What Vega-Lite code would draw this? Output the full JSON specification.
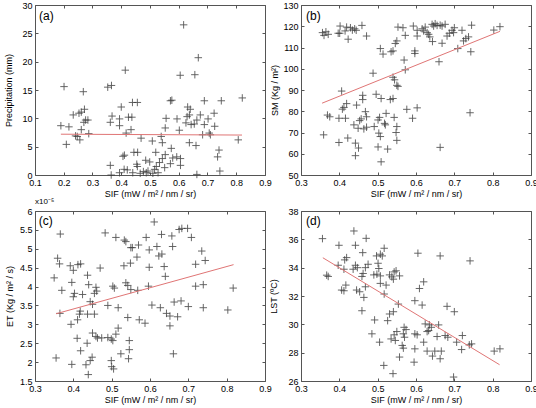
{
"$schema": "https://vega.github.io/schema/vega-lite/v6.json",
"padding": {"left": 4, "top": 0, "right": 0, "bottom": 0},
"background": "white",
"config": {
  "font": "Liberation Sans",
  "view": {"stroke": "#555", "strokeWidth": 1},
  "axis": {"grid": false, "domain": false, "tickSize": -3, "tickColor": "#555", "tickWidth": 1, "labelFontSize": 9, "labelColor": "#000", "labelPadding": 6, "labelFlush": false, "labelOverlap": false, "titleFontSize": 9, "titleFontWeight": "normal", "titleColor": "#000", "titlePadding": 3},
  "title": {"fontSize": 8, "fontWeight": "normal", "anchor": "start", "frame": "group", "offset": 1, "color": "#000"}
},
"datasets": {
  "a": [
    {"sif":0.414,"precip":18.5},{"sif":0.201,"precip":15.6},{"sif":0.268,"precip":14.7},{"sif":0.353,"precip":15.5},{"sif":0.366,"precip":15.8},{"sif":0.439,"precip":12.8},{"sif":0.456,"precip":12.8},{"sif":0.4,"precip":12.0},{"sif":0.233,"precip":10.6},{"sif":0.253,"precip":10.9},{"sif":0.261,"precip":11.1},{"sif":0.272,"precip":11.6},{"sif":0.276,"precip":9.7},{"sif":0.284,"precip":9.7},{"sif":0.27,"precip":9.3},{"sif":0.368,"precip":10.4},{"sif":0.394,"precip":9.9},{"sif":0.362,"precip":9.3},{"sif":0.394,"precip":8.7},{"sif":0.425,"precip":10.2},{"sif":0.437,"precip":10.2},{"sif":0.434,"precip":8.0},{"sif":0.417,"precip":7.4},{"sif":0.19,"precip":8.7},{"sif":0.218,"precip":8.5},{"sif":0.261,"precip":8.0},{"sif":0.241,"precip":6.9},{"sif":0.256,"precip":6.2},{"sif":0.247,"precip":6.8},{"sif":0.287,"precip":7.3},{"sif":0.209,"precip":5.4},{"sif":0.469,"precip":6.5},{"sif":0.411,"precip":3.5},{"sif":0.406,"precip":3.3},{"sif":0.444,"precip":4.0},{"sif":0.457,"precip":4.0},{"sif":0.362,"precip":1.7},{"sif":0.365,"precip":0.0},{"sif":0.394,"precip":0.4},{"sif":0.41,"precip":1.0},{"sif":0.421,"precip":0.9},{"sif":0.454,"precip":1.9},{"sif":0.456,"precip":1.5},{"sif":0.44,"precip":0.4},{"sif":0.466,"precip":0.3},{"sif":0.485,"precip":2.6},{"sif":0.477,"precip":0.6},
    {"sif":0.617,"precip":26.5},{"sif":0.668,"precip":20.7},{"sif":0.605,"precip":17.6},{"sif":0.656,"precip":17.7},{"sif":0.571,"precip":13.1},{"sif":0.576,"precip":13.2},{"sif":0.689,"precip":13.1},{"sif":0.748,"precip":13.1},{"sif":0.821,"precip":13.6},{"sif":0.631,"precip":12.0},{"sif":0.64,"precip":11.6},{"sif":0.723,"precip":10.9},{"sif":0.637,"precip":10.6},{"sif":0.556,"precip":10.0},{"sif":0.594,"precip":9.9},{"sif":0.629,"precip":10.3},{"sif":0.675,"precip":10.6},{"sif":0.702,"precip":9.9},{"sif":0.663,"precip":9.7},{"sif":0.625,"precip":9.2},{"sif":0.643,"precip":8.9},{"sif":0.654,"precip":9.0},{"sif":0.689,"precip":8.9},{"sif":0.553,"precip":8.3},{"sif":0.602,"precip":7.9},{"sif":0.725,"precip":8.6},{"sif":0.683,"precip":7.1},{"sif":0.706,"precip":7.4},{"sif":0.71,"precip":7.1},{"sif":0.807,"precip":6.2},{"sif":0.508,"precip":6.0},{"sif":0.539,"precip":6.8},{"sif":0.543,"precip":5.7},{"sif":0.637,"precip":5.7},{"sif":0.66,"precip":5.2},{"sif":0.52,"precip":4.0},{"sif":0.574,"precip":4.7},{"sif":0.74,"precip":4.4},{"sif":0.735,"precip":3.2},{"sif":0.553,"precip":3.6},{"sif":0.593,"precip":3.2},{"sif":0.606,"precip":2.9},{"sif":0.579,"precip":3.0},{"sif":0.543,"precip":2.9},{"sif":0.499,"precip":2.3},{"sif":0.533,"precip":2.2},{"sif":0.571,"precip":2.0},{"sif":0.606,"precip":1.7},{"sif":0.551,"precip":1.3},{"sif":0.516,"precip":1.0},{"sif":0.522,"precip":1.5},{"sif":0.493,"precip":0.7},{"sif":0.51,"precip":0.3},{"sif":0.528,"precip":0.4},{"sif":0.663,"precip":0.1},{"sif":0.743,"precip":0.7},{"sif":0.487,"precip":0.4}
  ],
  "afit": [{"sif":0.19,"precip":7.2},{"sif":0.82,"precip":7.05}],
  "b": [
    {"sif":0.359,"sm":68.9},{"sif":0.369,"sm":78.2},{"sif":0.375,"sm":77.4},{"sif":0.356,"sm":117.0},{"sif":0.365,"sm":117.4},{"sif":0.371,"sm":116.2},{"sif":0.36,"sm":115.7},{"sif":0.402,"sm":120.1},{"sif":0.397,"sm":116.7},{"sif":0.401,"sm":116.7},{"sif":0.419,"sm":119.6},{"sif":0.429,"sm":119.3},{"sif":0.434,"sm":118.2},{"sif":0.44,"sm":118.8},{"sif":0.459,"sm":120.4},{"sif":0.423,"sm":113.9},{"sif":0.471,"sm":115.4},{"sif":0.415,"sm":117.8},{"sif":0.444,"sm":118.1},{"sif":0.406,"sm":89.5},{"sif":0.399,"sm":76.7},{"sif":0.416,"sm":76.7},{"sif":0.412,"sm":81.8},{"sif":0.419,"sm":83.6},{"sif":0.408,"sm":81.0},{"sif":0.399,"sm":65.3},{"sif":0.422,"sm":67.4},{"sif":0.442,"sm":65.0},{"sif":0.442,"sm":59.1},{"sif":0.45,"sm":62.7},{"sif":0.445,"sm":82.9},{"sif":0.438,"sm":73.6},{"sif":0.449,"sm":72.0},{"sif":0.453,"sm":75.6},{"sif":0.457,"sm":76.4},{"sif":0.461,"sm":87.5},{"sif":0.461,"sm":85.5},{"sif":0.468,"sm":79.8},{"sif":0.471,"sm":77.4},{"sif":0.471,"sm":72.5},{"sif":0.464,"sm":71.7},{"sif":0.488,"sm":97.9},{"sif":0.496,"sm":88.0},{"sif":0.491,"sm":72.8},{"sif":0.501,"sm":75.9},{"sif":0.505,"sm":77.1},{"sif":0.503,"sm":69.7},{"sif":0.507,"sm":68.1},{"sif":0.501,"sm":63.2},{"sif":0.509,"sm":56.2},{"sif":0.509,"sm":86.0},{"sif":0.522,"sm":79.0},{"sif":0.518,"sm":74.3},{"sif":0.52,"sm":73.6},{"sif":0.526,"sm":62.2},{"sif":0.507,"sm":109.5},{"sif":0.514,"sm":106.9},{"sif":0.535,"sm":108.0},{"sif":0.54,"sm":108.4},{"sif":0.546,"sm":111.9},{"sif":0.55,"sm":113.1},{"sif":0.533,"sm":85.5},{"sif":0.54,"sm":86.0},{"sif":0.54,"sm":96.0},{"sif":0.544,"sm":94.8},{"sif":0.55,"sm":92.2},{"sif":0.553,"sm":91.7},{"sif":0.543,"sm":77.1},{"sif":0.55,"sm":72.8},{"sif":0.548,"sm":70.0},{"sif":0.55,"sm":66.3},{"sif":0.553,"sm":119.6},{"sif":0.569,"sm":104.1},{"sif":0.572,"sm":99.5},{"sif":0.576,"sm":80.9},{"sif":0.591,"sm":76.7},{"sif":0.566,"sm":119.3},{"sif":0.572,"sm":115.7},{"sif":0.593,"sm":120.1},{"sif":0.597,"sm":108.4},{"sif":0.597,"sm":107.2},{"sif":0.603,"sm":81.6},
    {"sif":0.603,"sm":118.1},{"sif":0.603,"sm":115.4},{"sif":0.616,"sm":118.8},{"sif":0.62,"sm":117.8},{"sif":0.624,"sm":119.6},{"sif":0.629,"sm":117.0},{"sif":0.633,"sm":116.2},{"sif":0.636,"sm":115.0},{"sif":0.642,"sm":120.9},{"sif":0.646,"sm":120.1},{"sif":0.65,"sm":121.2},{"sif":0.655,"sm":120.4},{"sif":0.663,"sm":120.5},{"sif":0.668,"sm":120.1},{"sif":0.676,"sm":120.9},{"sif":0.681,"sm":115.4},{"sif":0.687,"sm":116.7},{"sif":0.694,"sm":118.1},{"sif":0.698,"sm":117.0},{"sif":0.7,"sm":119.3},{"sif":0.72,"sm":118.1},{"sif":0.724,"sm":113.1},{"sif":0.73,"sm":114.2},{"sif":0.737,"sm":115.0},{"sif":0.745,"sm":120.5},{"sif":0.643,"sm":112.8},{"sif":0.668,"sm":112.0},{"sif":0.709,"sm":109.5},{"sif":0.743,"sm":108.0},{"sif":0.66,"sm":103.3},{"sif":0.741,"sm":79.3},{"sif":0.663,"sm":63.0},{"sif":0.803,"sm":118.2},{"sif":0.819,"sm":119.8}
  ],
  "bfit": [{"sif":0.355,"sm":83.8},{"sif":0.819,"sm":117.6}],
  "c": [
    {"sif":0.366,"et":5.39},{"sif":0.483,"et":5.42},{"sif":0.511,"et":5.30},{"sif":0.533,"et":5.23},{"sif":0.537,"et":5.19},{"sif":0.55,"et":5.03},{"sif":0.554,"et":5.03},{"sif":0.57,"et":5.10},{"sif":0.59,"et":5.30},{"sif":0.566,"et":4.78},{"sif":0.359,"et":4.75},{"sif":0.364,"et":4.60},{"sif":0.392,"et":4.55},{"sif":0.4,"et":4.43},{"sif":0.412,"et":4.58},{"sif":0.419,"et":4.60},{"sif":0.47,"et":4.49},{"sif":0.532,"et":4.55},{"sif":0.549,"et":4.62},{"sif":0.35,"et":4.23},{"sif":0.437,"et":4.30},{"sif":0.598,"et":4.51},{"sif":0.396,"et":4.11},{"sif":0.44,"et":4.05},{"sif":0.37,"et":3.90},{"sif":0.403,"et":3.82},{"sif":0.4,"et":3.73},{"sif":0.424,"et":3.79},{"sif":0.459,"et":3.98},{"sif":0.461,"et":3.88},{"sif":0.455,"et":3.82},{"sif":0.503,"et":4.01},{"sif":0.507,"et":3.96},{"sif":0.537,"et":4.10},{"sif":0.542,"et":4.03},{"sif":0.55,"et":3.92},{"sif":0.568,"et":3.90},{"sif":0.596,"et":4.01},{"sif":0.444,"et":3.60},{"sif":0.45,"et":3.53},{"sif":0.49,"et":3.50},{"sif":0.517,"et":3.44},{"sif":0.365,"et":3.29},{"sif":0.418,"et":3.35},{"sif":0.416,"et":3.27},{"sif":0.437,"et":3.27},{"sif":0.455,"et":3.27},{"sif":0.542,"et":3.18},{"sif":0.572,"et":3.12},{"sif":0.587,"et":3.03},{"sif":0.394,"et":3.00},{"sif":0.411,"et":3.12},{"sif":0.517,"et":2.90},{"sif":0.511,"et":2.74},{"sif":0.45,"et":2.77},{"sif":0.459,"et":2.68},{"sif":0.463,"et":2.64},{"sif":0.474,"et":2.64},{"sif":0.49,"et":2.65},{"sif":0.499,"et":2.61},{"sif":0.503,"et":2.57},{"sif":0.41,"et":2.63},{"sif":0.436,"et":2.50},{"sif":0.546,"et":2.57},{"sif":0.419,"et":2.30},{"sif":0.546,"et":2.33},{"sif":0.524,"et":2.22},{"sif":0.544,"et":2.09},{"sif":0.355,"et":2.11},{"sif":0.396,"et":1.94},{"sif":0.449,"et":2.13},{"sif":0.444,"et":2.04},{"sif":0.433,"et":1.93},{"sif":0.499,"et":2.04},{"sif":0.5,"et":1.88},{"sif":0.505,"et":1.82},{"sif":0.439,"et":1.67},
    {"sif":0.611,"et":5.71},{"sif":0.676,"et":5.51},{"sif":0.683,"et":5.54},{"sif":0.698,"et":5.54},{"sif":0.708,"et":5.30},{"sif":0.63,"et":5.38},{"sif":0.657,"et":5.34},{"sif":0.618,"et":5.06},{"sif":0.659,"et":5.06},{"sif":0.598,"et":4.97},{"sif":0.623,"et":4.81},{"sif":0.631,"et":4.86},{"sif":0.735,"et":4.94},{"sif":0.744,"et":4.69},{"sif":0.719,"et":4.59},{"sif":0.637,"et":4.53},{"sif":0.64,"et":4.27},{"sif":0.719,"et":4.01},{"sif":0.739,"et":4.05},{"sif":0.817,"et":3.96},{"sif":0.605,"et":3.51},{"sif":0.627,"et":3.44},{"sif":0.663,"et":3.59},{"sif":0.681,"et":3.62},{"sif":0.7,"et":3.47},{"sif":0.739,"et":3.44},{"sif":0.803,"et":3.38},{"sif":0.643,"et":3.29},{"sif":0.652,"et":3.22},{"sif":0.672,"et":3.20},{"sif":0.652,"et":2.96},{"sif":0.661,"et":2.22}
  ],
  "cfit": [{"sif":0.355,"et":3.28},{"sif":0.818,"et":4.58}],
  "d": [
    {"sif":0.356,"lst":36.05},{"sif":0.438,"lst":36.59},{"sif":0.47,"lst":36.07},{"sif":0.399,"lst":35.58},{"sif":0.442,"lst":35.58},{"sif":0.517,"lst":35.37},{"sif":0.461,"lst":35.06},{"sif":0.507,"lst":34.95},{"sif":0.512,"lst":34.83},{"sif":0.419,"lst":34.71},{"sif":0.414,"lst":34.55},{"sif":0.397,"lst":34.17},{"sif":0.442,"lst":34.17},{"sif":0.447,"lst":34.0},{"sif":0.475,"lst":34.24},{"sif":0.497,"lst":34.83},{"sif":0.501,"lst":34.31},{"sif":0.412,"lst":33.89},{"sif":0.436,"lst":33.89},{"sif":0.468,"lst":34.0},{"sif":0.503,"lst":33.94},{"sif":0.498,"lst":33.54},{"sif":0.49,"lst":33.49},{"sif":0.507,"lst":33.42},{"sif":0.462,"lst":33.59},{"sif":0.459,"lst":33.38},{"sif":0.543,"lst":33.70},{"sif":0.548,"lst":33.78},{"sif":0.531,"lst":33.49},{"sif":0.537,"lst":33.35},{"sif":0.557,"lst":33.42},{"sif":0.541,"lst":33.19},{"sif":0.507,"lst":32.89},{"sif":0.522,"lst":32.77},{"sif":0.367,"lst":33.47},{"sif":0.371,"lst":33.38},{"sif":0.417,"lst":32.77},{"sif":0.406,"lst":32.42},{"sif":0.412,"lst":32.37},{"sif":0.445,"lst":32.42},{"sif":0.453,"lst":32.30},{"sif":0.468,"lst":32.65},{"sif":0.517,"lst":32.14},{"sif":0.464,"lst":31.90},{"sif":0.459,"lst":30.96},{"sif":0.554,"lst":31.43},{"sif":0.541,"lst":30.89},{"sif":0.531,"lst":30.73},{"sif":0.526,"lst":30.26},{"sif":0.492,"lst":30.31},{"sif":0.485,"lst":29.33},{"sif":0.55,"lst":29.49},{"sif":0.543,"lst":29.26},{"sif":0.535,"lst":28.97},{"sif":0.546,"lst":28.86},{"sif":0.569,"lst":29.79},{"sif":0.574,"lst":29.63},{"sif":0.567,"lst":29.33},{"sif":0.57,"lst":29.09},{"sif":0.564,"lst":28.51},{"sif":0.567,"lst":28.32},{"sif":0.505,"lst":28.74},{"sif":0.597,"lst":29.33},{"sif":0.597,"lst":28.27},{"sif":0.516,"lst":27.10},{"sif":0.557,"lst":27.69},{"sif":0.54,"lst":26.52},{"sif":0.595,"lst":27.33},{"sif":0.597,"lst":31.67},
    {"sif":0.605,"lst":35.02},{"sif":0.663,"lst":34.83},{"sif":0.741,"lst":34.48},{"sif":0.62,"lst":33.0},{"sif":0.609,"lst":32.53},{"sif":0.616,"lst":31.36},{"sif":0.681,"lst":31.27},{"sif":0.7,"lst":30.89},{"sif":0.624,"lst":30.03},{"sif":0.635,"lst":29.96},{"sif":0.64,"lst":29.79},{"sif":0.659,"lst":29.96},{"sif":0.633,"lst":29.56},{"sif":0.629,"lst":29.49},{"sif":0.655,"lst":29.14},{"sif":0.676,"lst":29.21},{"sif":0.683,"lst":29.09},{"sif":0.603,"lst":29.26},{"sif":0.721,"lst":29.21},{"sif":0.62,"lst":28.74},{"sif":0.629,"lst":28.11},{"sif":0.649,"lst":28.11},{"sif":0.666,"lst":28.11},{"sif":0.643,"lst":27.76},{"sif":0.663,"lst":27.57},{"sif":0.706,"lst":28.74},{"sif":0.719,"lst":28.22},{"sif":0.739,"lst":28.55},{"sif":0.745,"lst":28.62},{"sif":0.804,"lst":28.11},{"sif":0.819,"lst":28.27},{"sif":0.698,"lst":26.28}
  ],
  "dfit": [{"sif":0.357,"lst":34.7},{"sif":0.818,"lst":27.15}]
},
"columns": 2,
"spacing": {"row": 36, "column": 36},
"bounds": "flush",
"resolve": {"scale": {"x": "independent", "y": "independent"}},
"concat": [
    {"width": 230, "height": 170,
     "layer": [
      {"data": {"name": "a"}, "mark": {"type": "point", "shape": "M-1,0H1M0,-1V1", "size": 56, "filled": false, "stroke": "#3a3a3a", "strokeWidth": 0.9, "opacity": 0.85},
       "encoding": {
        "x": {"field": "sif", "type": "quantitative", "scale": {"domain": [0.1, 0.9], "nice": false, "zero": false}, "axis": {"title": "SIF (mW / m² / nm / sr)", "values": [0.1,0.2,0.3,0.4,0.5,0.6,0.7,0.8,0.9], "format": "~g", "titlePadding": 2}},
        "y": {"field": "precip", "type": "quantitative", "scale": {"domain": [0, 30], "nice": false, "zero": false}, "axis": {"title": "Precipitation (mm)", "values": [0,5,10,15,20,25,30], "titlePadding": 8}}}},
      {"data": {"name": "afit"}, "mark": {"type": "line", "color": "#e07575", "strokeWidth": 1},
       "encoding": {
        "x": {"field": "sif", "type": "quantitative", "axis": {"orient": "top", "labels": false, "title": null, "values": [0.1,0.2,0.3,0.4,0.5,0.6,0.7,0.8,0.9]}},
        "y": {"field": "precip", "type": "quantitative", "axis": {"orient": "right", "labels": false, "title": null, "values": [0,5,10,15,20,25,30]}}}},
      {"data": {"values": [{}]}, "mark": {"type": "text", "align": "left", "baseline": "alphabetic", "fontSize": 12},
       "encoding": {"x": {"datum": 0.114, "type": "quantitative", "axis": null}, "y": {"datum": 27.4, "type": "quantitative", "axis": null}, "text": {"value": "(a)"}}}
     ],
     "resolve": {"axis": {"x": "independent", "y": "independent"}}
    },
    {"width": 230, "height": 170,
     "layer": [
      {"data": {"name": "b"}, "mark": {"type": "point", "shape": "M-1,0H1M0,-1V1", "size": 56, "filled": false, "stroke": "#3a3a3a", "strokeWidth": 0.9, "opacity": 0.85},
       "encoding": {
        "x": {"field": "sif", "type": "quantitative", "scale": {"domain": [0.3, 0.9], "nice": false, "zero": false}, "axis": {"title": "SIF (mW / m² / nm / sr)", "values": [0.3,0.4,0.5,0.6,0.7,0.8,0.9], "format": "~g", "titlePadding": 2}},
        "y": {"field": "sm", "type": "quantitative", "scale": {"domain": [50, 130], "nice": false, "zero": false}, "axis": {"title": "SM (Kg / m²)", "values": [50,60,70,80,90,100,110,120,130], "titlePadding": 3}}}},
      {"data": {"name": "bfit"}, "mark": {"type": "line", "color": "#e07575", "strokeWidth": 1},
       "encoding": {
        "x": {"field": "sif", "type": "quantitative", "axis": {"orient": "top", "labels": false, "title": null, "values": [0.3,0.4,0.5,0.6,0.7,0.8,0.9]}},
        "y": {"field": "sm", "type": "quantitative", "axis": {"orient": "right", "labels": false, "title": null, "values": [50,60,70,80,90,100,110,120,130]}}}},
      {"data": {"values": [{}]}, "mark": {"type": "text", "align": "left", "baseline": "alphabetic", "fontSize": 12},
       "encoding": {"x": {"datum": 0.313, "type": "quantitative", "axis": null}, "y": {"datum": 122.9, "type": "quantitative", "axis": null}, "text": {"value": "(b)"}}}
     ],
     "resolve": {"axis": {"x": "independent", "y": "independent"}}
    },
    {"width": 230, "height": 170,
     "title": {"text": "x10⁻⁵"},
     "layer": [
      {"data": {"name": "c"}, "mark": {"type": "point", "shape": "M-1,0H1M0,-1V1", "size": 56, "filled": false, "stroke": "#3a3a3a", "strokeWidth": 0.9, "opacity": 0.85},
       "encoding": {
        "x": {"field": "sif", "type": "quantitative", "scale": {"domain": [0.3, 0.9], "nice": false, "zero": false}, "axis": {"title": "SIF (mW / m² / nm / sr)", "values": [0.3,0.4,0.5,0.6,0.7,0.8,0.9], "format": "~g", "titlePadding": 2}},
        "y": {"field": "et", "type": "quantitative", "scale": {"domain": [1.5, 6], "nice": false, "zero": false}, "axis": {"title": "ET (Kg / m² / s)", "values": [1.5,2,2.5,3,3.5,4,4.5,5,5.5,6], "format": "~g", "titlePadding": 5}}}},
      {"data": {"name": "cfit"}, "mark": {"type": "line", "color": "#e07575", "strokeWidth": 1},
       "encoding": {
        "x": {"field": "sif", "type": "quantitative", "axis": {"orient": "top", "labels": false, "title": null, "values": [0.3,0.4,0.5,0.6,0.7,0.8,0.9]}},
        "y": {"field": "et", "type": "quantitative", "axis": {"orient": "right", "labels": false, "title": null, "values": [1.5,2,2.5,3,3.5,4,4.5,5,5.5,6]}}}},
      {"data": {"values": [{}]}, "mark": {"type": "text", "align": "left", "baseline": "alphabetic", "fontSize": 12},
       "encoding": {"x": {"datum": 0.31, "type": "quantitative", "axis": null}, "y": {"datum": 5.63, "type": "quantitative", "axis": null}, "text": {"value": "(c)"}}}
     ],
     "resolve": {"axis": {"x": "independent", "y": "independent"}}
    },
    {"width": 230, "height": 170,
     "layer": [
      {"data": {"name": "d"}, "mark": {"type": "point", "shape": "M-1,0H1M0,-1V1", "size": 56, "filled": false, "stroke": "#3a3a3a", "strokeWidth": 0.9, "opacity": 0.85},
       "encoding": {
        "x": {"field": "sif", "type": "quantitative", "scale": {"domain": [0.3, 0.9], "nice": false, "zero": false}, "axis": {"title": "SIF (mW / m² / nm / sr)", "values": [0.3,0.4,0.5,0.6,0.7,0.8,0.9], "format": "~g", "titlePadding": 2}},
        "y": {"field": "lst", "type": "quantitative", "scale": {"domain": [26, 38], "nice": false, "zero": false}, "axis": {"title": "LST (ºC)", "values": [26,28,30,32,34,36,38], "titlePadding": 9}}}},
      {"data": {"name": "dfit"}, "mark": {"type": "line", "color": "#e07575", "strokeWidth": 1},
       "encoding": {
        "x": {"field": "sif", "type": "quantitative", "axis": {"orient": "top", "labels": false, "title": null, "values": [0.3,0.4,0.5,0.6,0.7,0.8,0.9]}},
        "y": {"field": "lst", "type": "quantitative", "axis": {"orient": "right", "labels": false, "title": null, "values": [26,28,30,32,34,36,38]}}}},
      {"data": {"values": [{}]}, "mark": {"type": "text", "align": "left", "baseline": "alphabetic", "fontSize": 12},
       "encoding": {"x": {"datum": 0.313, "type": "quantitative", "axis": null}, "y": {"datum": 37.0, "type": "quantitative", "axis": null}, "text": {"value": "(d)"}}}
     ],
     "resolve": {"axis": {"x": "independent", "y": "independent"}}
    }
]
}
